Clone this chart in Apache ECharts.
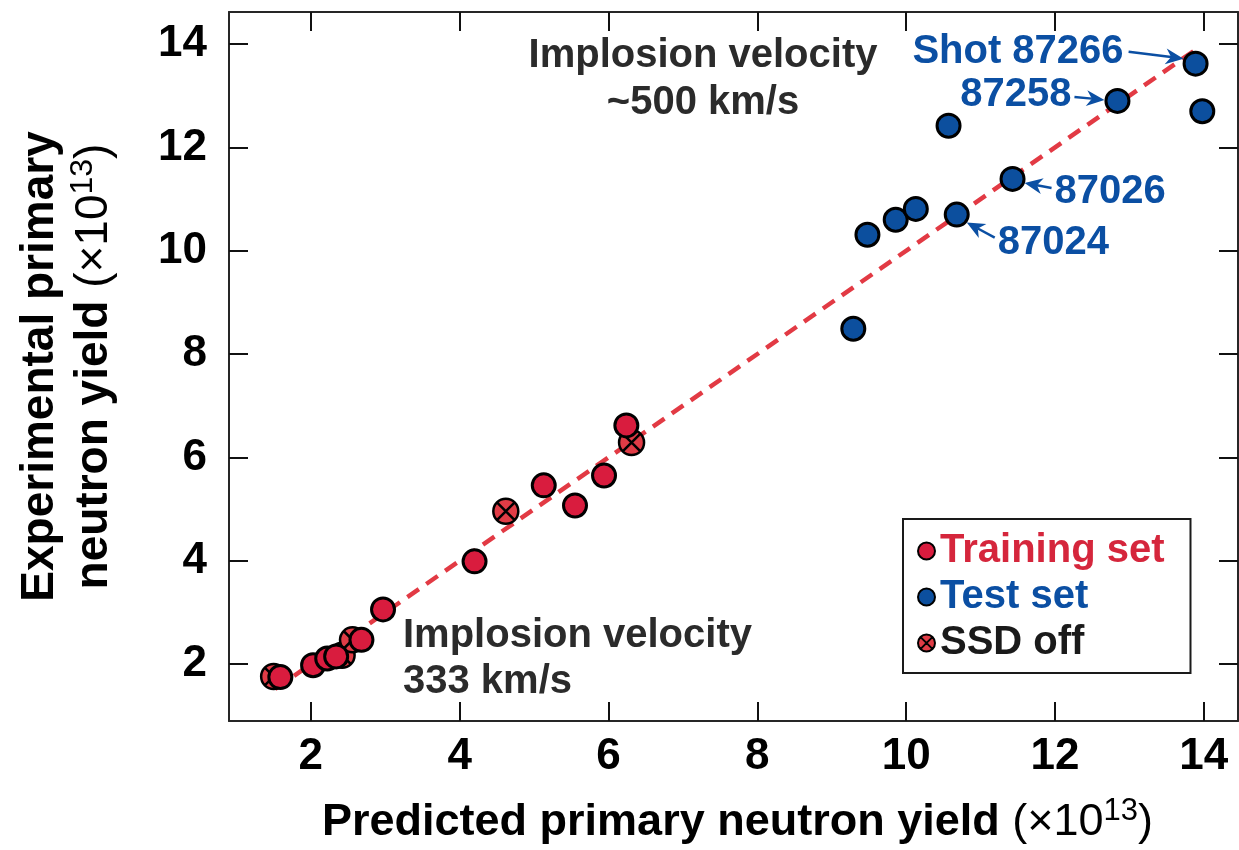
<!DOCTYPE html>
<html>
<head>
<meta charset="utf-8">
<script src="https://cdn.jsdelivr.net/npm/echarts@6/dist/echarts.min.js"></script>
<style>
  html, body { margin: 0; padding: 0; background: #fff; }
  #chart { width: 1239px; height: 850px; }
</style>
</head>
<body>
<div id="chart"></div>
<script>
// Primary neutron yield: predicted vs experimental (units of 1e13)
const trainX = [1.59, 2.03, 2.22, 2.34, 2.68, 2.97, 4.20, 5.13, 5.55, 5.94, 6.24];
const trainY = [1.75, 1.98, 2.11, 2.15, 2.47, 3.06, 3.99, 5.46, 5.07, 5.65, 6.62];

const testX = [9.29, 9.48, 9.86, 10.13, 10.68, 10.57, 11.43, 12.84, 13.89, 13.98];
const testY = [8.49, 10.31, 10.60, 10.81, 10.70, 12.42, 11.39, 12.90, 13.62, 12.70];

const ssdX = [1.50, 2.42, 2.56, 4.62, 6.31];
const ssdY = [1.76, 2.17, 2.47, 4.96, 6.29];

const fitX = [1.52, 13.9];
const fitY = [1.52, 13.9];

const tickValues = [2, 4, 6, 8, 10, 12, 14];

// Shot labels attached to test-set points (index into testX/testY)
const shotNames = ['Shot 87266', '87258', '87026', '87024'];
const shotIndex = [8, 7, 6, 4];

const FONT = '"Liberation Sans", Arial, Helvetica, sans-serif';
const RED = '#d91c3e';
const RED_SSD = '#e03c46';
const BLUE = '#0c4f9e';
const LABEL_BLUE = '#0b4fa3';
const DARK = '#2b2b2b';

// circle with an inscribed X
const SSD_SYMBOL = 'path://M0,10A10,10,0,1,0,20,10A10,10,0,1,0,0,10ZM2.5,2.5L17.5,17.5M17.5,2.5L2.5,17.5';

const zip = (xs, ys) => xs.map((x, i) => [x, ys[i]]);

const chart = echarts.init(document.getElementById('chart'));

const axisLine = { show: true, lineStyle: { color: '#262626', width: 2 } };
const inTick = { show: true, inside: true, length: 19, lineStyle: { color: '#111', width: 2 }, customValues: tickValues };
const bigLabel = { fontFamily: FONT, fontWeight: 'bold', fontSize: 44, color: '#000' };

function richSet(size) {
  return {
    b: { fontFamily: FONT, fontWeight: 'bold', fontSize: size, color: '#000', lineHeight: size + 8 },
    r: { fontFamily: FONT, fontWeight: 'normal', fontSize: size, color: '#000', lineHeight: size + 8 },
    sup: { fontFamily: FONT, fontWeight: 'normal', fontSize: Math.round(size * 0.7), color: '#000', lineHeight: size + 8, verticalAlign: 'top', padding: [0, 0, 16, 0] }
  };
}

const option = {
  animation: false,
  backgroundColor: '#fff',
  grid: { left: 229, right: 1, top: 12, bottom: 128, containLabel: false },
  xAxis: [
    {
      type: 'value', min: 0.9, max: 14.46, position: 'bottom',
      axisLine, axisTick: inTick, splitLine: { show: false },
      axisLabel: Object.assign({ margin: 14, customValues: tickValues }, bigLabel),
      name: '{b|Predicted primary neutron yield }{r|(×10}{sup|13}{r|)}',
      nameLocation: 'middle', nameGap: 75,
      nameTextStyle: { rich: richSet(45), padding: [0, 0, 0, 8] }
    },
    {
      type: 'value', min: 0.9, max: 14.46, position: 'top',
      axisLine, axisTick: inTick, splitLine: { show: false }, axisLabel: { show: false }
    }
  ],
  yAxis: [
    {
      type: 'value', min: 0.9, max: 14.62, position: 'left',
      axisLine, axisTick: inTick, splitLine: { show: false },
      axisLabel: Object.assign({ margin: 22, customValues: tickValues }, bigLabel),
      name: '{b|Experimental primary}\n{b|neutron yield }{r|(×10}{sup|13}{r|)}',
      nameLocation: 'middle', nameGap: 108, nameRotate: 90,
      nameTextStyle: { rich: richSet(46), align: 'center' }
    },
    {
      type: 'value', min: 0.9, max: 14.62, position: 'right',
      axisLine, axisTick: inTick, splitLine: { show: false }, axisLabel: { show: false }
    }
  ],
  legend: {
    orient: 'vertical',
    left: 903, top: 519,
    padding: [12, 26, 10, 14],
    itemGap: 6,
    itemWidth: 17, itemHeight: 17,
    borderColor: '#1a1a1a', borderWidth: 2,
    backgroundColor: '#fff',
    textStyle: { fontFamily: FONT, fontWeight: 'bold', fontSize: 40, padding: [0, 0, 0, 0] },
    data: [
      { name: 'Training set', icon: 'circle', textStyle: { color: '#d5263c' } },
      { name: 'Test set', icon: 'circle', textStyle: { color: LABEL_BLUE } },
      { name: 'SSD off', icon: SSD_SYMBOL, textStyle: { color: '#1a1a1a' } }
    ]
  },
  series: [
    {
      name: 'Fit', type: 'line', data: zip(fitX, fitY), symbol: 'none', z: 1,
      lineStyle: { color: '#e23a44', width: 4.5, type: [14, 9] }
    },
    {
      name: 'SSD off', type: 'scatter', data: zip(ssdX, ssdY), z: 2,
      symbol: SSD_SYMBOL, symbolSize: 25,
      itemStyle: { color: RED_SSD, borderColor: '#000', borderWidth: 2.5, opacity: 1 }
    },
    {
      name: 'Training set', type: 'scatter', data: zip(trainX, trainY), z: 3,
      symbol: 'circle', symbolSize: 23,
      itemStyle: { color: RED, borderColor: '#000', borderWidth: 3, opacity: 1 }
    },
    {
      name: 'Test set', type: 'scatter', data: zip(testX, testY), z: 3,
      symbol: 'circle', symbolSize: 23,
      itemStyle: { color: BLUE, borderColor: '#000', borderWidth: 3, opacity: 1 }
    }
  ]
};

chart.setOption(option);

// Shot-label placement relative to each labelled point (pixels)
const shotLayout = [
  { text: [-72, -12], align: 'right', from: [-67, -12], to: [-12, -5] },
  { text: [-46, -6], align: 'right', from: [-43, -4], to: [-13, -1] },
  { text: [42, 13], align: 'left', from: [39, 9], to: [12, 4] },
  { text: [41, 28], align: 'left', from: [38, 23], to: [10, 8] }
];

function arrow(x1, y1, x2, y2, color) {
  const dx = x2 - x1, dy = y2 - y1;
  const len = Math.sqrt(dx * dx + dy * dy);
  const ux = dx / len, uy = dy / len;
  const L = 18, W = 8;
  const bx = x2 - ux * L, by = y2 - uy * L;
  const mx = x2 - ux * L * 0.7, my = y2 - uy * L * 0.7;
  return [
    { type: 'line', shape: { x1, y1, x2: mx, y2: my }, style: { stroke: color, lineWidth: 2.5 }, z: 10 },
    { type: 'polygon', shape: { points: [[x2, y2], [bx - uy * W, by + ux * W], [mx, my], [bx + uy * W, by - ux * W]] }, style: { fill: color }, z: 10 }
  ];
}

const graphics = [];
shotNames.forEach((name, k) => {
  const i = shotIndex[k];
  const p = chart.convertToPixel({ xAxisIndex: 0, yAxisIndex: 0 }, [testX[i], testY[i]]);
  const lay = shotLayout[k];
  graphics.push({
    type: 'text', x: p[0] + lay.text[0], y: p[1] + lay.text[1], z: 10,
    style: { text: name, fill: LABEL_BLUE, font: 'bold 40px ' + FONT, align: lay.align, verticalAlign: 'middle' }
  });
  graphics.push(...arrow(p[0] + lay.from[0], p[1] + lay.from[1], p[0] + lay.to[0], p[1] + lay.to[1], LABEL_BLUE));
});

// Velocity annotations
graphics.push({
  type: 'text', x: 703, y: 79, z: 10,
  style: { text: 'Implosion velocity\n~500 km/s', fill: DARK, font: 'bold 40px ' + FONT, align: 'center', verticalAlign: 'middle', lineHeight: 47 }
});
graphics.push({
  type: 'text', x: 403, y: 659, z: 10,
  style: { text: 'Implosion velocity\n333 km/s', fill: DARK, font: 'bold 40px ' + FONT, align: 'left', verticalAlign: 'middle', lineHeight: 46 }
});

chart.setOption({ graphic: graphics });
</script>
</body>
</html>
